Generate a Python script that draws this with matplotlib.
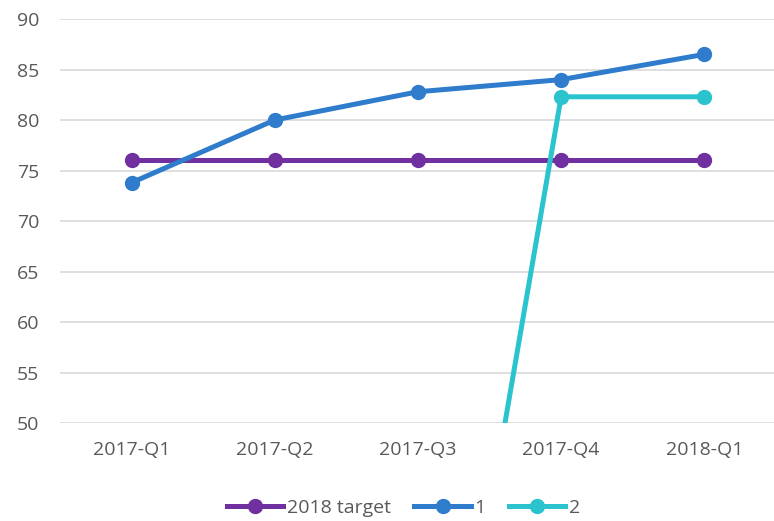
import matplotlib.pyplot as plt

quarters = ["2017-Q1", "2017-Q2", "2017-Q3", "2017-Q4", "2018-Q1"]
target_2018 = [76, 76, 76, 76, 76]
series_1 = [73.8, 80.0, 82.8, 84.0, 86.5]
series_2 = [0, 0, 0, 82.3, 82.3]

plt.rcParams['font.family'] = ['Open Sans', 'DejaVu Sans']

fig = plt.figure(figsize=(7.74, 5.21), dpi=100)
ax = fig.add_axes([0.0775, 0.188, 0.925, 0.7755])

x = range(len(quarters))
ax.plot(x, target_2018, color="#7030A0", lw=3.6, marker="o", ms=10, label="2018 target")
ax.plot(x, series_1, color="#2E7CCB", lw=3.6, marker="o", ms=10, label="1")
ax.plot(x, series_2, color="#2BC3CD", lw=3.6, marker="o", ms=10, label="2")

ax.set_ylim(50, 90)
ax.set_xlim(-0.5, 4.5)
ax.set_yticks(range(50, 91, 5))
ax.set_xticks(list(x))
ax.set_xticklabels(quarters)
ax.grid(axis="y", color="#D9D9D9", lw=1.2)
ax.set_axisbelow(True)
for s in ax.spines.values():
    s.set_visible(False)
ax.tick_params(axis="both", length=0, colors="#595959", labelsize=14)
ax.tick_params(axis="y", pad=15)
ax.tick_params(axis="x", pad=13)

ax.legend(loc="upper center", bbox_to_anchor=(0.48, -0.145), ncol=3, frameon=False,
          fontsize=14, labelcolor="#595959", handlelength=2.9, handletextpad=0.2,
          columnspacing=1.2)

fig.savefig("out.png", dpi=100)
